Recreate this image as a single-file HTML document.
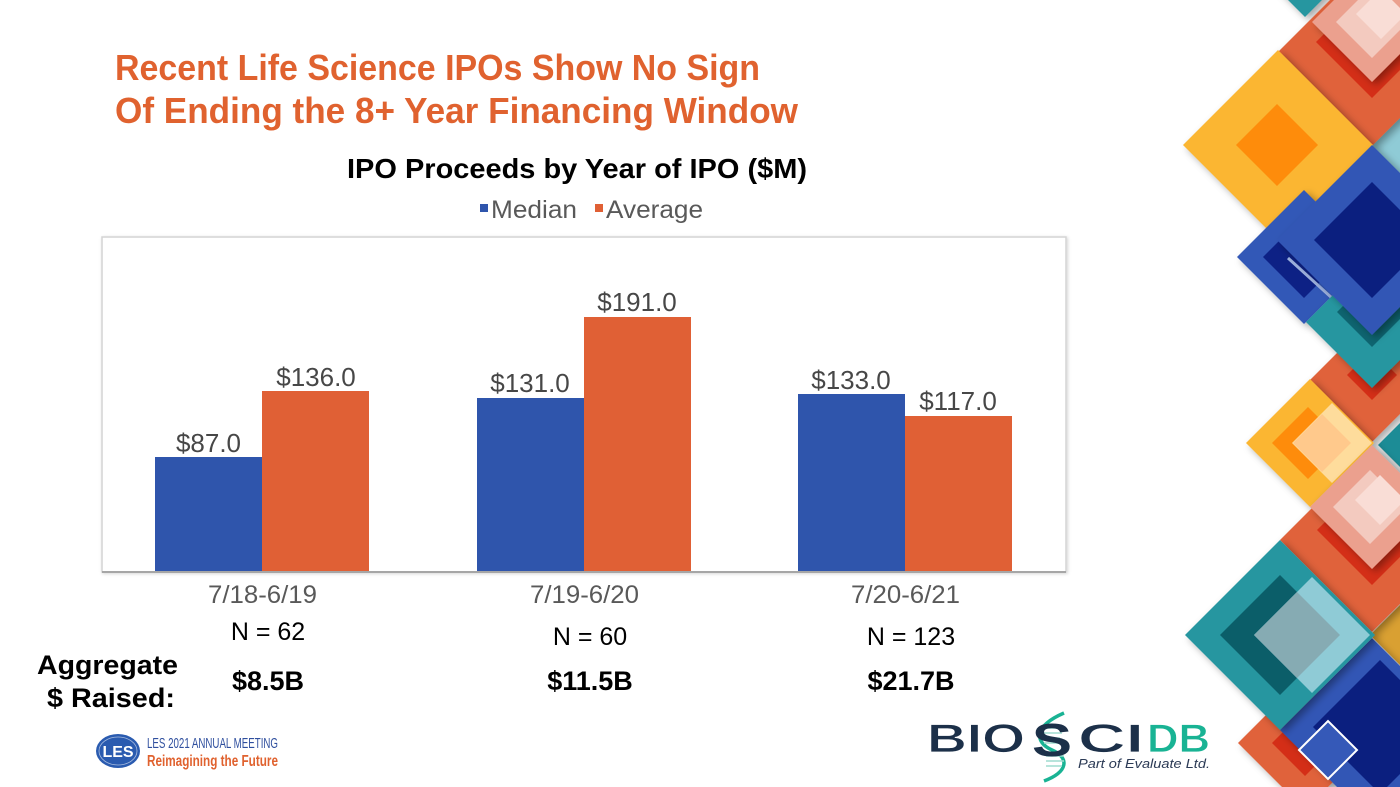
<!DOCTYPE html>
<html>
<head>
<meta charset="utf-8">
<style>
  html,body{margin:0;padding:0;background:#fff;}
  body{width:1400px;height:787px;overflow:hidden;}
  svg{display:block;}
  text{font-family:"Liberation Sans", Arial, sans-serif;}
</style>
</head>
<body>
<svg width="1400" height="787" viewBox="0 0 1400 787" xmlns="http://www.w3.org/2000/svg">
  <defs>
    <filter id="sh" x="-30%" y="-30%" width="160%" height="160%">
      <feDropShadow dx="4" dy="3" stdDeviation="4" flood-color="#000" flood-opacity="0.35"/>
    </filter>
    <filter id="fs" x="-5%" y="-5%" width="110%" height="110%">
      <feDropShadow dx="1" dy="1" stdDeviation="1.5" flood-color="#000" flood-opacity="0.18"/>
    </filter>
  </defs>
  <rect width="1400" height="787" fill="#ffffff"/>

  <!-- ===== Decorative diamonds (right side) ===== -->
  <g>
    <polygon points="1243,-45 1305,-107 1367,-45 1305,17" fill="#2596A0" filter="url(#sh)"/>
    <polygon points="1370,145 1430,85 1490,145 1430,205" fill="#8FCBD6"/>
    <polygon points="1278,52 1372,-42 1466,52 1372,146" fill="#E0623A" filter="url(#sh)"/>
    <polygon points="1316,42 1372,-14 1428,42 1372,98" fill="#D42E17"/>
    <polygon points="1312,22 1372,-38 1432,22 1372,82" fill="#EBA08E" filter="url(#sh)"/>
    <polygon points="1336,22 1372,-14 1408,22 1372,58" fill="#F3CABF"/>
    <polygon points="1356,14 1381,-11 1406,14 1381,39" fill="#F9DDD6"/>
    <polygon points="1183,145 1278,50 1373,145 1278,240" fill="#FBB631" filter="url(#sh)"/>
    <polygon points="1236,145 1277,104 1318,145 1277,186" fill="#FE8C0B"/>

    <polygon points="1310,380 1372,318 1434,380 1372,442" fill="#E0623A" filter="url(#sh)"/>
    <polygon points="1347,375 1372,350 1397,375 1372,400" fill="#D42E17"/>
    <polygon points="1237,257 1304,190 1371,257 1304,324" fill="#3359B7" filter="url(#sh)"/>
    <polygon points="1263,257 1304,216 1345,257 1304,298" fill="#0D2185"/>
    <line x1="1288" y1="258" x2="1332" y2="298" stroke="#9FB3E0" stroke-width="3"/>
    <polygon points="1306,322 1372,256 1438,322 1372,388" fill="#2596A0" filter="url(#sh)"/>
    <polygon points="1337,312 1372,277 1407,312 1372,347" fill="#0E6470"/>
    <polygon points="1277,240 1372,145 1467,240 1372,335" fill="#3057B5" filter="url(#sh)"/>
    <polygon points="1314,240 1372,182 1430,240 1372,298" fill="#0B1F7F"/>

    <polygon points="1378,445 1440,383 1502,445 1440,507" fill="#1F8C96" filter="url(#sh)"/>
    <polygon points="1246,443 1310,379 1374,443 1310,507" fill="#FBB631" filter="url(#sh)"/>
    <polygon points="1272,443 1308,407 1344,443 1308,479" fill="#FE8C0B"/>
    <polygon points="1292,443 1332,403 1372,443 1332,483" fill="#FEDC9C"/>
    <polygon points="1293,443 1322,414 1351,443 1322,472" fill="#FFC98C"/>

    <polygon points="1370,635 1440,565 1510,635 1440,705" fill="#D9A030" filter="url(#sh)"/>
    <polygon points="1280,540 1372,448 1464,540 1372,632" fill="#E0623A" filter="url(#sh)"/>
    <polygon points="1317,530 1372,475 1427,530 1372,585" fill="#D42E17"/>
    <polygon points="1310,507 1372,445 1434,507 1372,569" fill="#EBA08E" filter="url(#sh)"/>
    <polygon points="1333,507 1370,470 1407,507 1370,544" fill="#F3CABF"/>
    <polygon points="1355,500 1380,475 1405,500 1380,525" fill="#F9DDD6"/>

    <polygon points="1238,743 1305,676 1372,743 1305,810" fill="#E0623A" filter="url(#sh)"/>
    <polygon points="1272,743 1305,710 1338,743 1305,776" fill="#D42E17"/>
    <polygon points="1280,730 1372,638 1464,730 1372,822" fill="#3057B5" filter="url(#sh)"/>
    <polygon points="1313,727 1380,660 1447,727 1380,794" fill="#0B1F7F"/>
    <polygon points="1185,635 1280,540 1375,635 1280,730" fill="#2596A0" filter="url(#sh)"/>
    <polygon points="1220,635 1280,575 1340,635 1280,695" fill="#0B5E69"/>
    <polygon points="1254,635 1312,577 1370,635 1312,693" fill="#8FCBD6"/>
    <polygon points="1254,635 1297,592 1340,635 1297,678" fill="#86ABB3"/>
    <polygon points="1299,750 1328,721 1357,750 1328,779" fill="#3559B8" stroke="#ffffff" stroke-width="2"/>
  </g>

  <!-- ===== Slide title ===== -->
  <g font-weight="bold" fill="#E0622F">
    <text x="115" y="80" font-size="36" textLength="645" lengthAdjust="spacingAndGlyphs">Recent Life Science IPOs Show No Sign</text>
    <text x="115" y="123" font-size="36" textLength="683" lengthAdjust="spacingAndGlyphs">Of Ending the 8+ Year Financing Window</text>
  </g>

  <!-- ===== Chart title & legend ===== -->
  <text x="347" y="178" font-size="28" font-weight="bold" fill="#000" textLength="460" lengthAdjust="spacingAndGlyphs">IPO Proceeds by Year of IPO ($M)</text>
  <rect x="480" y="204" width="8" height="8" fill="#2F55AC"/>
  <text x="491" y="218" font-size="25" fill="#595959" textLength="86" lengthAdjust="spacingAndGlyphs">Median</text>
  <rect x="595" y="204" width="8" height="8" fill="#E06035"/>
  <text x="606" y="218" font-size="25" fill="#595959" textLength="97" lengthAdjust="spacingAndGlyphs">Average</text>

  <!-- ===== Chart frame ===== -->
  <rect x="102" y="237" width="964" height="335" fill="#ffffff" stroke="#D4D4D4" stroke-width="1.5" filter="url(#fs)"/>

  <rect x="155" y="457" width="107" height="115" fill="#2F55AC"/>
  <rect x="262" y="391" width="107" height="181" fill="#E06035"/>
  <rect x="477" y="398" width="107" height="174" fill="#2F55AC"/>
  <rect x="584" y="317" width="107" height="255" fill="#E06035"/>
  <rect x="798" y="394" width="107" height="178" fill="#2F55AC"/>
  <rect x="905" y="416" width="107" height="156" fill="#E06035"/>

  <line x1="102" y1="572" x2="1066" y2="572" stroke="#A6A6A6" stroke-width="2"/>

  <g font-size="26" fill="#474747" text-anchor="middle">
    <text x="208.5" y="452">$87.0</text>
    <text x="316" y="386">$136.0</text>
    <text x="530" y="392">$131.0</text>
    <text x="637" y="311">$191.0</text>
    <text x="851" y="389">$133.0</text>
    <text x="958" y="410">$117.0</text>
  </g>

  <g font-size="25" fill="#595959">
    <text x="208" y="603" textLength="109" lengthAdjust="spacingAndGlyphs">7/18-6/19</text>
    <text x="530" y="603" textLength="109" lengthAdjust="spacingAndGlyphs">7/19-6/20</text>
    <text x="851" y="603" textLength="109" lengthAdjust="spacingAndGlyphs">7/20-6/21</text>
  </g>

  <g font-size="25" fill="#000" text-anchor="middle">
    <text x="268" y="640">N = 62</text>
    <text x="590" y="645">N = 60</text>
    <text x="911" y="645">N = 123</text>
  </g>

  <g font-size="27" font-weight="bold" fill="#000">
    <text x="37" y="674" textLength="141" lengthAdjust="spacingAndGlyphs">Aggregate</text>
    <text x="47" y="707" textLength="128" lengthAdjust="spacingAndGlyphs">$ Raised:</text>
  </g>
  <g font-size="27" font-weight="bold" fill="#000" text-anchor="middle">
    <text x="268" y="690">$8.5B</text>
    <text x="590" y="690">$11.5B</text>
    <text x="911" y="690">$21.7B</text>
  </g>

  <!-- ===== LES logo ===== -->
  <ellipse cx="118" cy="751" rx="22" ry="17" fill="#2A5BB0"/>
  <ellipse cx="118" cy="751" rx="19" ry="14" fill="none" stroke="#ffffff" stroke-width="0.8" opacity="0.6"/>
  <text x="118" y="757" font-size="16" font-weight="bold" fill="#ffffff" text-anchor="middle">LES</text>
  <text x="147" y="748" font-size="15" fill="#2F4F9E" textLength="131" lengthAdjust="spacingAndGlyphs">LES 2021 ANNUAL MEETING</text>
  <text x="147" y="766" font-size="16" font-weight="bold" fill="#E0622F" textLength="131" lengthAdjust="spacingAndGlyphs">Reimagining the Future</text>

  <!-- ===== BioSciDB logo ===== -->
  <g>
    <path d="M1064,713 C1034,726 1034,742 1052,750 C1070,758 1068,772 1044,781" stroke="#19B394" stroke-width="3.5" fill="none"/>
    <g stroke="#9FDCCF" stroke-width="1.5">
      <line x1="1044" y1="728" x2="1062" y2="728"/>
      <line x1="1042" y1="733" x2="1062" y2="733"/>
      <line x1="1042" y1="738" x2="1060" y2="738"/>
      <line x1="1044" y1="743" x2="1060" y2="743"/>
      <line x1="1046" y1="756" x2="1064" y2="756"/>
      <line x1="1046" y1="761" x2="1064" y2="761"/>
      <line x1="1046" y1="766" x2="1062" y2="766"/>
    </g>
    <text x="927" y="752" font-size="40" font-weight="bold" fill="#1C3049" textLength="98" lengthAdjust="spacingAndGlyphs" stroke="#fff" stroke-width="0.8">BIO</text>
    <text x="1032" y="756" font-size="46" font-weight="bold" fill="#1C3049" textLength="40" lengthAdjust="spacingAndGlyphs">S</text>
    <text x="1078" y="752" font-size="40" font-weight="bold" fill="#1C3049" textLength="66" lengthAdjust="spacingAndGlyphs" stroke="#fff" stroke-width="0.8">CI</text>
    <text x="1147" y="752" font-size="40" font-weight="bold" fill="#19B394" textLength="63" lengthAdjust="spacingAndGlyphs" stroke="#fff" stroke-width="0.8">DB</text>
    <text x="1078" y="768" font-size="13" font-style="italic" fill="#2B3A55" textLength="132" lengthAdjust="spacingAndGlyphs">Part of Evaluate Ltd.</text>
  </g>
</svg>
</body>
</html>
